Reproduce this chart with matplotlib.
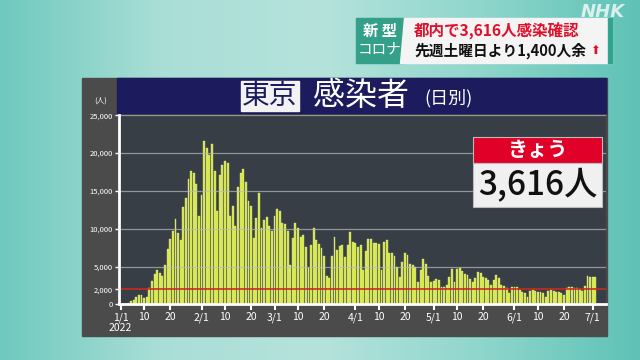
import numpy as np
import matplotlib
matplotlib.use('Agg')
import matplotlib.pyplot as plt
from matplotlib.patches import Rectangle, Polygon

plt.rcParams['font.family'] = ['Noto Sans CJK JP', 'DejaVu Sans']

# daily new cases, Tokyo, 2022/1/1 - 7/2
jan = [79, 84, 103, 151, 390, 641, 922, 1224, 1223, 871, 962, 2198, 3124, 4051, 4561, 4172,
       3719, 5185, 7377, 8638, 9699, 11227, 9468, 8503, 12813, 14086, 16538, 17631, 17433,
       15895, 11751]
feb = [14445, 21576, 20679, 19810, 21140, 17600, 12290, 17160, 18480, 18920, 18710, 11720,
       13050, 10300, 15530, 17380, 17910, 16140, 13620, 12960, 8760, 11410, 14730, 10090,
       11190, 11550, 10300, 9640]
mar = [11630, 12650, 12300, 10750, 10600, 9640, 5220, 8760, 10750, 10090, 8900, 9200, 7650,
       4790, 7880, 10090, 8450, 8000, 7440, 6420, 3770, 3550, 6420, 8850, 7210, 7660, 7880,
       6290, 7880, 9560, 8300]
apr = [8100, 7650, 7880, 4560, 7000, 8630, 8630, 8100, 8100, 8000, 4560, 8190, 8450, 6770,
       6770, 6400, 5000, 3680, 5660, 6860, 6550, 5360, 5230, 5000, 3000, 4560, 5980, 5360,
       3770, 3000]
may = [3130, 3330, 3250, 2260, 2350, 2570, 3590, 4650, 3000, 4650, 4780, 4380, 4070, 3940,
       3330, 3000, 3550, 4250, 4120, 3590, 3460, 3240, 2610, 3240, 3900, 3460, 2610, 2480,
       2170, 1470, 2260]
jun = [2350, 2260, 1910, 1700, 1470, 950, 1770, 1910, 1820, 1700, 1600, 1470, 1000, 1820,
       1910, 1820, 1700, 1700, 1470, 1200, 2130, 2350, 2260, 2130, 2210, 2000, 1820, 2440,
       3750, 3590]
jul = [3590, 3616]
cases = jan + feb + mar + apr + may + jun + jul
days = np.arange(len(cases))

tick_pos = [0, 9, 19, 31, 40, 50, 59, 68, 78, 90, 99, 109, 120, 129, 139, 151, 160, 170, 181]
tick_lab = ['1/1\n2022', '10', '20', '2/1', '10', '20', '3/1', '10', '20', '4/1', '10', '20',
            '5/1', '10', '20', '6/1', '10', '20', '7/1']
ytick_pos = [0, 2000, 5000, 10000, 15000, 20000, 25000]
ytick_lab = ['0', '2,000', '5,000', '10,000', '15,000', '20,000', '25,000']

fig = plt.figure(figsize=(6.4, 3.6), dpi=100)

# background layer in pixel coordinates
bg = fig.add_axes([0, 0, 1, 1])
bg.set_xlim(0, 640)
bg.set_ylim(360, 0)
bg.axis('off')
grad = np.linspace(0, 1, 256)
grad = np.vstack([grad] * 2)
cmap = matplotlib.colors.LinearSegmentedColormap.from_list('bgc', ['#6fc9be', '#a9ded6', '#b5e3dc', '#8fd6cc', '#5fc2b6'])
bg.imshow(grad, extent=[0, 640, 360, 0], aspect='auto', cmap=cmap, zorder=0)

# chart panel
bg.add_patch(Rectangle((82, 78), 525, 258, color='#4b4b4b', zorder=1))
bg.add_patch(Rectangle((117, 78), 489, 35, color='#1c1b5e', zorder=2))
bg.add_patch(Rectangle((241, 81), 58, 30, color='#f2f2f2', zorder=3))
bg.text(270, 96.5, '東京', color='#1c1b5e', fontsize=20, ha='center', va='center', zorder=4)
bg.text(361, 96.5, '感染者', color='white', fontsize=23, ha='center', va='center', zorder=4)
bg.text(449, 98, '(日別)', color='white', fontsize=13, ha='center', va='center', zorder=4)
bg.text(101, 101, '(人)', color='white', fontsize=5.5, ha='center', va='center', zorder=4)

# top right caption
bg.add_patch(Rectangle((356, 18), 48, 45, color='#35a08a', zorder=2))
bg.add_patch(Polygon([(404, 18), (612, 18), (612, 63), (400, 63)], closed=True, color='#f4f4f4', zorder=2))
bg.add_patch(Rectangle((608, 18), 4, 45, color='#2fa58c', zorder=3))
bg.text(380, 31, '新 型', color='white', fontsize=11, fontweight='bold', ha='center', va='center', zorder=4)
bg.text(380, 50, 'コロナ', color='white', fontsize=10.5, ha='center', va='center', zorder=4)
bg.text(414, 31, '都内で3,616人感染確認', color='#e0102a', fontsize=11.2, ha='left', va='center',
        fontweight='bold', zorder=4)
bg.text(414, 50.5, '先週土曜日より1,400人余', color='#111111', fontsize=10.6, ha='left', va='center',
        fontweight='bold', zorder=4)
bg.text(595, 51, '⬆', color='#e0102a', fontsize=8.5, ha='center', va='center',
        family='DejaVu Sans', zorder=4)
bg.text(603, 12, 'NHK', color='white', alpha=0.75, fontsize=13, ha='center', va='center',
        fontweight='bold', style='italic', family='DejaVu Sans', zorder=4)

# bar chart
ax = fig.add_axes([119 / 640, 1 - 304.4 / 360, 487 / 640, (304.4 - 115.3) / 360])
ax.set_facecolor('#383e46')
ax.bar(days, cases, width=0.72, color='#d2e43e', edgecolor='#f0f6a8', linewidth=0.25, zorder=2)
for v in [5000, 10000, 15000, 20000, 25000]:
    ax.axhline(v, color='#b8bcbc', lw=0.9, alpha=0.7, zorder=3)
ax.axhline(2000, color='#cc2a1e', lw=1.3, alpha=0.9, zorder=4)
ax.set_xlim(-0.65, 186.1)
ax.set_ylim(0, 25000)
ax.set_xticks(tick_pos)
ax.set_xticklabels(tick_lab, color='white', fontsize=7.5, linespacing=1.0)
ax.set_yticks(ytick_pos)
ax.set_yticklabels(ytick_lab, color='white', fontsize=5.5)
ax.tick_params(axis='x', colors='white', length=4, width=1.5, pad=1.5, labelcolor='white')
ax.tick_params(axis='y', colors='white', length=3, width=1, pad=1.5, labelcolor='white')
for s in ['top', 'right']:
    ax.spines[s].set_visible(False)
for s in ['left', 'bottom']:
    ax.spines[s].set_color('white')
    ax.spines[s].set_linewidth(2)
    ax.spines[s].set_zorder(5)

# today box, above the chart axes
box = fig.add_axes([0, 0, 1, 1])
box.set_xlim(0, 640)
box.set_ylim(360, 0)
box.axis('off')
box.add_patch(Rectangle((473, 137), 129, 26, facecolor='#e00028', edgecolor='#bbbbbb', lw=0.8))
box.add_patch(Rectangle((473, 163), 129, 44, facecolor='#f0f0f0', edgecolor='#bbbbbb', lw=0.8))
box.text(537.5, 150, 'きょう', color='white', fontsize=14.5, fontweight='bold', ha='center', va='center')
box.text(537.5, 185.5, '3,616人', color='#111111', fontsize=24, fontweight='medium', ha='center', va='center')

fig.savefig('out.png', dpi=100)
